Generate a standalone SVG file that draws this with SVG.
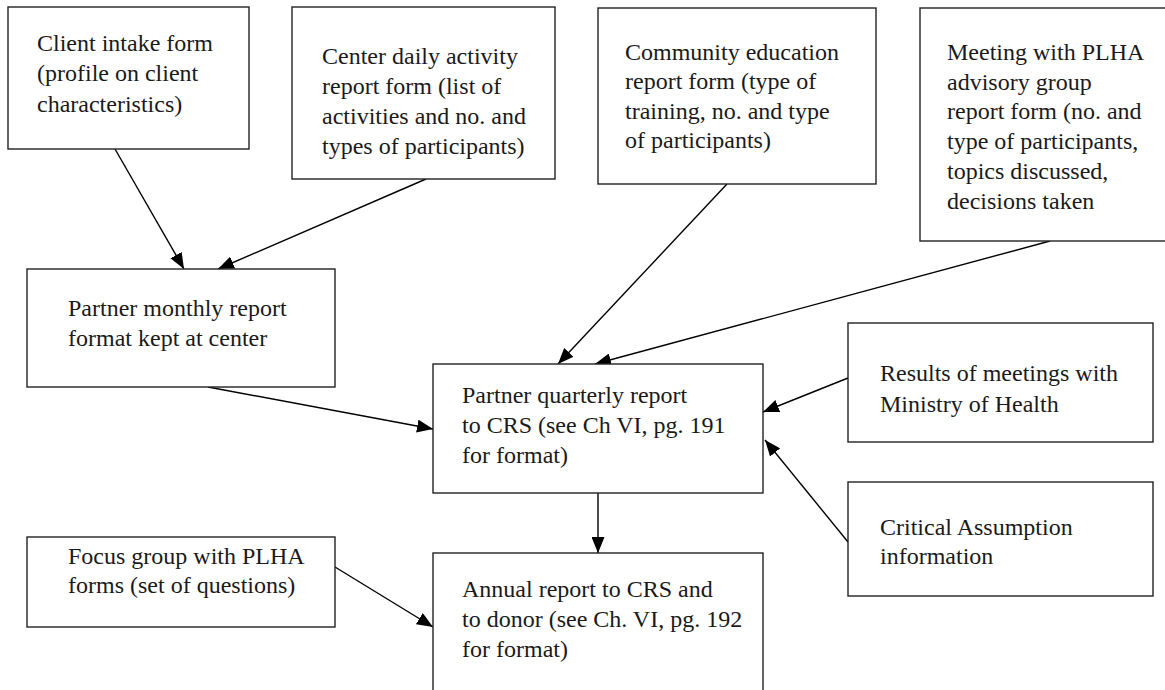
<svg xmlns="http://www.w3.org/2000/svg" width="1165" height="690" viewBox="0 0 1165 690">
<style>
.box{fill:#fff;stroke:#222;stroke-width:1.4}
.t{font-family:"Liberation Serif","Times New Roman",serif;font-size:24px;fill:#1a1a1a}
.c{stroke:#000;stroke-width:1.4;fill:none;marker-end:url(#ah)}
</style>
<defs>
<marker id="ah" markerUnits="userSpaceOnUse" markerWidth="17" markerHeight="13" refX="16" refY="6.5" orient="auto">
<path d="M0,0 L16,6.5 L0,13 z" fill="#000"/>
</marker>
</defs>
<rect width="1165" height="690" fill="#fff"/>
<g id="connectors">
<line class="c" x1="115" y1="149" x2="184" y2="269"/>
<line class="c" x1="426" y1="179" x2="218" y2="269"/>
<line class="c" x1="727" y1="184" x2="558" y2="364"/>
<line class="c" x1="1050" y1="241" x2="595" y2="364"/>
<line class="c" x1="208" y1="387" x2="433" y2="429"/>
<line class="c" x1="848" y1="378" x2="763" y2="412"/>
<line class="c" x1="848" y1="542" x2="765" y2="440"/>
<line class="c" x1="598" y1="493" x2="598" y2="553"/>
<line class="c" x1="335" y1="567" x2="433" y2="627"/>
</g>
<g id="client-intake">
<rect class="box" x="8" y="7" width="241" height="142"/>
<text class="t" x="37" y="51">Client intake form</text>
<text class="t" x="37" y="81">(profile on client</text>
<text class="t" x="37" y="112">characteristics)</text>
</g>
<g id="center-daily">
<rect class="box" x="292" y="7" width="263" height="172"/>
<text class="t" x="322" y="64">Center daily activity</text>
<text class="t" x="322" y="94">report form (list of</text>
<text class="t" x="322" y="124">activities and no. and</text>
<text class="t" x="322" y="154">types of participants)</text>
</g>
<g id="community-education">
<rect class="box" x="598" y="8" width="278" height="176"/>
<text class="t" x="625" y="60">Community education</text>
<text class="t" x="625" y="89">report form (type of</text>
<text class="t" x="625" y="119">training, no. and type</text>
<text class="t" x="625" y="148">of participants)</text>
</g>
<g id="plha-advisory">
<rect class="box" x="920" y="8" width="260" height="233"/>
<text class="t" x="947" y="60">Meeting with PLHA</text>
<text class="t" x="947" y="90">advisory group</text>
<text class="t" x="947" y="119">report form (no. and</text>
<text class="t" x="947" y="149">type of participants,</text>
<text class="t" x="947" y="179">topics discussed,</text>
<text class="t" x="947" y="209">decisions taken</text>
</g>
<g id="partner-monthly">
<rect class="box" x="27" y="269" width="308" height="118"/>
<text class="t" x="68" y="316">Partner monthly report</text>
<text class="t" x="68" y="346">format kept at center</text>
</g>
<g id="partner-quarterly">
<rect class="box" x="433" y="364" width="330" height="129"/>
<text class="t" x="462" y="403">Partner quarterly report</text>
<text class="t" x="462" y="433">to CRS (see Ch VI, pg. 191</text>
<text class="t" x="462" y="463">for format)</text>
</g>
<g id="ministry-results">
<rect class="box" x="848" y="323" width="305" height="119"/>
<text class="t" x="880" y="381">Results of meetings with</text>
<text class="t" x="880" y="412">Ministry of Health</text>
</g>
<g id="critical-assumption">
<rect class="box" x="848" y="482" width="305" height="114"/>
<text class="t" x="880" y="535">Critical Assumption</text>
<text class="t" x="880" y="564">information</text>
</g>
<g id="focus-group">
<rect class="box" x="27" y="537" width="308" height="90"/>
<text class="t" x="68" y="564">Focus group with PLHA</text>
<text class="t" x="68" y="593">forms (set of questions)</text>
</g>
<g id="annual-report">
<rect class="box" x="433" y="553" width="330" height="160"/>
<text class="t" x="462" y="597">Annual report to CRS and</text>
<text class="t" x="462" y="627">to donor (see Ch. VI, pg. 192</text>
<text class="t" x="462" y="657">for format)</text>
</g>
</svg>
